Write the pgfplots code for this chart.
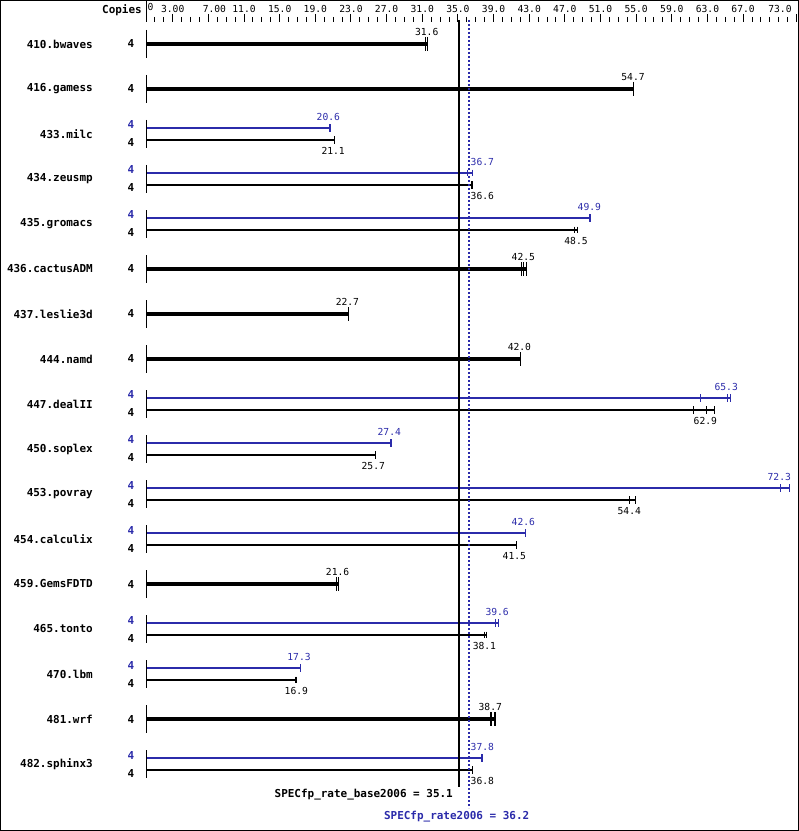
\documentclass[border=0pt]{standalone}
\usepackage{fontspec}
\setmainfont{DejaVu Sans Mono}
\usepackage{pgfplots}
\pgfplotsset{compat=1.18}
\definecolor{specblue}{RGB}{43,43,170}
\newcommand{\vf}{\fontsize{9.7}{11}\selectfont}
\newcommand{\nf}{\fontsize{11}{13}\selectfont\bfseries}
\newcommand{\specbar}[4]{\addplot[#1, line width=#2, forget plot] coordinates {(0,#3) (#4,#3)};}
\newcommand{\runs}[3]{\addplot[#1, only marks, mark=|, mark size=#2, mark options={line width=1bp}, forget plot] coordinates {#3};}
\begin{document}
\begin{tikzpicture}
\begin{axis}[
  width=799bp, height=809bp, scale only axis,
  xmin=-16.3824, xmax=73.272, ymin=22, ymax=831, y dir=reverse,
  axis x line*=top, axis y line=none, x axis line style={draw=none},
  tick align=outside,
  xtick={3,7,11,15,19,23,27,31,35,39,43,47,51,55,59,63,67,73},
  xticklabels={3.00,{\makebox[0pt]{\hspace{12bp}7.00}},11.0,15.0,19.0,23.0,27.0,31.0,35.0,39.0,43.0,47.0,51.0,55.0,59.0,63.0,67.0,{\makebox[0pt][r]{73.0\hspace{5bp}}}},
  minor xtick={1,2,...,72},
  major tick length=8bp, minor tick length=5bp,
  every tick/.style={black, line width=1bp},
  xticklabel style={font=\vf, anchor=south, inner sep=1bp},
  clip=false,
]
% frame and bounding box
\coordinate (fsw) at (axis cs:-16.3263,830.5);
\coordinate (fne) at (axis cs:73.216,0.5);
\draw[black, line width=1bp] (fsw) rectangle (fne);
% zero line at the scale
\addplot[black, line width=1bp, forget plot] coordinates {(0,1) (0,22)};
% row baselines
\addplot[black, only marks, mark=|, mark size=14bp, mark options={line width=1bp}, forget plot] coordinates {(0,44) (0,89) (0,134) (0,179) (0,224) (0,269) (0,314) (0,359) (0,404) (0,449) (0,494) (0,539) (0,584) (0,629) (0,674) (0,719) (0,764)};
% single (base = peak) rows
\specbar{black}{4bp}{44}{31.6}
\runs{black}{7bp}{(31.35,44) (31.6,44)}
\specbar{black}{4bp}{89}{54.7}
\runs{black}{7bp}{(54.67,89) (54.74,89)}
\specbar{black}{4bp}{269}{42.7}
\runs{black}{7bp}{(42.1,269) (42.4,269) (42.7,269)}
\specbar{black}{4bp}{314}{22.72}
\runs{black}{7bp}{(22.68,314) (22.75,314)}
\specbar{black}{4bp}{359}{42.0}
\runs{black}{7bp}{(42.0,359)}
\specbar{black}{4bp}{584}{21.55}
\runs{black}{7bp}{(21.32,584) (21.55,584)}
\specbar{black}{4bp}{719}{39.16}
\runs{black}{7bp}{(38.66,719) (38.72,719) (39.12,719) (39.18,719)}
% peak (blue) bars
\specbar{specblue}{2bp}{128}{20.63}
\runs{specblue}{3.7bp}{(20.6,128) (20.66,128)}
\specbar{specblue}{2bp}{173}{36.66}
\runs{specblue}{3.4bp}{(36.1,173) (36.66,173)}
\specbar{specblue}{2bp}{218}{49.83}
\runs{specblue}{3.7bp}{(49.8,218) (49.86,218)}
\specbar{specblue}{2bp}{398}{65.6}
\runs{specblue}{3.7bp}{(62.2,398) (65.2,398) (65.6,398)}
\specbar{specblue}{2bp}{443}{27.5}
\runs{specblue}{3.7bp}{(27.47,443) (27.53,443)}
\specbar{specblue}{2bp}{488}{72.15}
\runs{specblue}{3.7bp}{(71.2,488) (72.15,488)}
\specbar{specblue}{2bp}{533}{42.56}
\runs{specblue}{3.7bp}{(42.53,533) (42.59,533)}
\specbar{specblue}{2bp}{623}{39.5}
\runs{specblue}{3.7bp}{(39.27,623) (39.5,623)}
\specbar{specblue}{2bp}{668}{17.28}
\runs{specblue}{3.7bp}{(17.28,668)}
\specbar{specblue}{2bp}{758}{37.76}
\runs{specblue}{3.7bp}{(37.68,758) (37.74,758) (37.8,758)}
% base (black) bars
\specbar{black}{2bp}{140}{21.1}
\runs{black}{3.7bp}{(21.1,140)}
\specbar{black}{2bp}{185}{36.58}
\runs{black}{3.7bp}{(36.52,185) (36.58,185)}
\specbar{black}{2bp}{230}{48.4}
\runs{black}{3.4bp}{(48.03,230) (48.4,230)}
\specbar{black}{2bp}{410}{63.77}
\runs{black}{3.7bp}{(61.45,410) (62.9,410) (63.77,410)}
\specbar{black}{2bp}{455}{25.7}
\runs{black}{3.7bp}{(25.7,455)}
\specbar{black}{2bp}{500}{54.87}
\runs{black}{3.7bp}{(54.24,500) (54.3,500) (54.87,500)}
\specbar{black}{2bp}{545}{41.55}
\runs{black}{3.7bp}{(41.55,545)}
\specbar{black}{2bp}{635}{38.2}
\runs{black}{3.4bp}{(38.0,635) (38.2,635)}
\specbar{black}{2bp}{680}{16.94}
\runs{black}{3.4bp}{(16.8,680) (16.94,680)}
\specbar{black}{2bp}{770}{36.6}
\runs{black}{3.7bp}{(36.6,770)}
% overall score lines
\addplot[black, line width=2bp, forget plot] coordinates {(35.1,20) (35.1,787)};
\addplot[specblue, line width=2bp, dash pattern=on 2bp off 2bp, forget plot] coordinates {(36.2,20) (36.2,808)};
% benchmark names
\begin{scope}[every node/.style={font=\nf, anchor=east, inner sep=0pt}]
\node at (axis cs:-5.95,44) {410.bwaves};
\node at (axis cs:-5.95,89) {416.gamess};
\node at (axis cs:-5.95,134) {433.milc};
\node at (axis cs:-5.95,179) {434.zeusmp};
\node at (axis cs:-5.95,224) {435.gromacs};
\node at (axis cs:-5.95,269) {436.cactusADM};
\node at (axis cs:-5.95,314) {437.leslie3d};
\node at (axis cs:-5.95,359) {444.namd};
\node at (axis cs:-5.95,404) {447.dealII};
\node at (axis cs:-5.95,449) {450.soplex};
\node at (axis cs:-5.95,494) {453.povray};
\node at (axis cs:-5.95,539) {454.calculix};
\node at (axis cs:-5.95,584) {459.GemsFDTD};
\node at (axis cs:-5.95,629) {465.tonto};
\node at (axis cs:-5.95,674) {470.lbm};
\node at (axis cs:-5.95,719) {481.wrf};
\node at (axis cs:-5.95,764) {482.sphinx3};
\node at (axis cs:-0.45,10) {Copies};
\end{scope}
% copies
\pgfplotsinvokeforeach{44,89,269,314,359,584,719}{\node[font=\nf, inner sep=0pt] at (axis cs:-1.68,#1) {4};}
\pgfplotsinvokeforeach{125,170,215,395,440,485,530,620,665,755}{\node[font=\nf, inner sep=0pt, text=specblue] at (axis cs:-1.68,#1) {4};}
\pgfplotsinvokeforeach{143,188,233,413,458,503,548,638,683,773}{\node[font=\nf, inner sep=0pt] at (axis cs:-1.68,#1) {4};}
% value labels
\begin{scope}[every node/.style={font=\vf, anchor=center, inner sep=0pt}]
\node at (axis cs:31.5,32) {31.6};
\node at (axis cs:54.65,77) {54.7};
\node at (axis cs:42.34,257) {42.5};
\node at (axis cs:22.6,302) {22.7};
\node at (axis cs:41.9,347) {42.0};
\node at (axis cs:21.5,572) {21.6};
\node at (axis cs:38.63,707) {38.7};
\node[text=specblue] at (axis cs:20.46,117) {20.6};
\node[text=specblue] at (axis cs:37.74,162) {36.7};
\node[text=specblue] at (axis cs:49.75,207) {49.9};
\node[text=specblue] at (axis cs:65.1,387) {65.3};
\node[text=specblue] at (axis cs:27.3,432) {27.4};
\node[text=specblue] at (axis cs:71.06,477) {72.3};
\node[text=specblue] at (axis cs:42.34,522) {42.6};
\node[text=specblue] at (axis cs:39.4,612) {39.6};
\node[text=specblue] at (axis cs:17.17,657) {17.3};
\node[text=specblue] at (axis cs:37.74,747) {37.8};
\node at (axis cs:21.0,151) {21.1};
\node at (axis cs:37.74,196) {36.6};
\node at (axis cs:48.25,241) {48.5};
\node at (axis cs:62.76,421) {62.9};
\node at (axis cs:25.5,466) {25.7};
\node at (axis cs:54.23,511) {54.4};
\node at (axis cs:41.33,556) {41.5};
\node at (axis cs:37.97,646) {38.1};
\node at (axis cs:16.87,691) {16.9};
\node at (axis cs:37.74,781) {36.8};
\node[anchor=west] at (axis cs:0.15,7) {0};
\end{scope}
% summary labels
\node[font=\nf, anchor=east, inner sep=0pt] at (axis cs:34.45,795) {SPECfp\_rate\_base2006 = 35.1};
\node[font=\nf, text=specblue, anchor=center, inner sep=0pt] at (axis cs:34.86,817) {SPECfp\_rate2006 = 36.2};
\end{axis}
\pgfresetboundingbox
\path[use as bounding box] ([xshift=-0.5bp,yshift=-0.5bp]fsw) rectangle ([xshift=0.5bp,yshift=0.5bp]fne);
\end{tikzpicture}
\end{document}
